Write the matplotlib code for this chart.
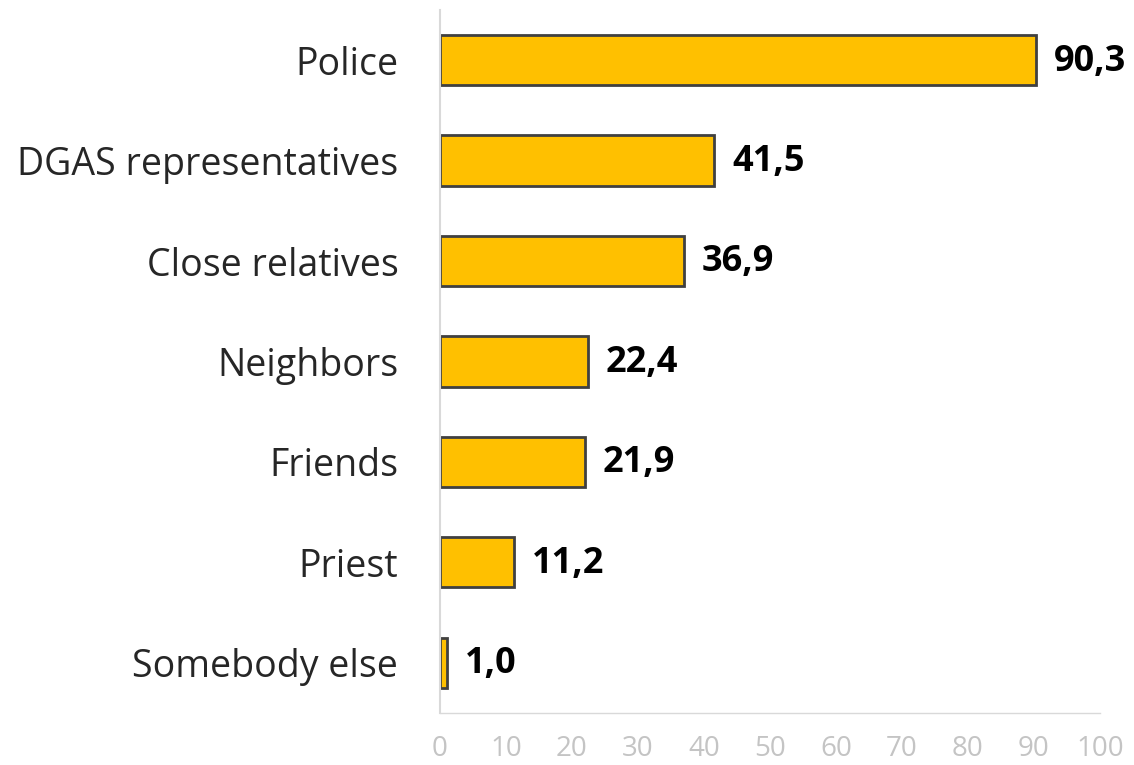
import matplotlib.pyplot as plt

plt.rcParams['font.family'] = ['Open Sans', 'DejaVu Sans']

categories = ['Police', 'DGAS representatives', 'Close relatives', 'Neighbors',
              'Friends', 'Priest', 'Somebody else']
values = [90.3, 41.5, 36.9, 22.4, 21.9, 11.2, 1.0]
labels = ['90,3', '41,5', '36,9', '22,4', '21,9', '11,2', '1,0']
ticks = list(range(0, 101, 10))

fig = plt.figure(figsize=(11.34, 7.65), dpi=100)
ax = fig.add_axes([0.388, 0.068, 0.582, 0.919])

pos = list(range(len(categories)))
ax.barh(pos, values, height=0.5, color='#FFC000', edgecolor='#404040', linewidth=2)

for y, v, lab in zip(pos, values, labels):
    ax.annotate(lab, (v, y), xytext=(13, -1), textcoords='offset points',
                va='center', ha='left', fontsize=26, fontweight='bold', color='black')

ax.set_xlim(0, 100)
ax.set_ylim(6.5, -0.5)
ax.set_xticks(ticks)
ax.set_xticklabels([str(t) for t in ticks], fontsize=20, color='#C4C4C4')
ax.set_yticks(pos)
ax.set_yticklabels(categories, fontsize=27, color='#262626')
ax.tick_params(axis='both', length=0)
ax.tick_params(axis='y', pad=30)
ax.tick_params(axis='x', pad=16)

for s in ['top', 'right']:
    ax.spines[s].set_visible(False)
ax.spines['left'].set_color('#D9D9D9')
ax.spines['bottom'].set_color('#D9D9D9')
ax.spines['left'].set_linewidth(1.5)
ax.spines['bottom'].set_linewidth(1)

fig.savefig('out.png', dpi=100)
